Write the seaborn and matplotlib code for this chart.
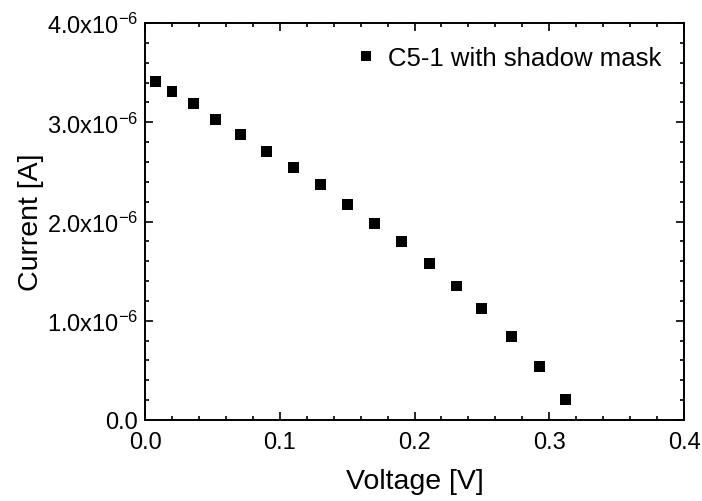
import numpy as np
import pandas as pd
import matplotlib
matplotlib.use('Agg')
import matplotlib.pyplot as plt
from matplotlib.ticker import MultipleLocator, FixedLocator
import seaborn as sns

sns.set_style('ticks')
plt.rcParams['font.family'] = ['Liberation Sans', 'DejaVu Sans']
plt.rcParams['mathtext.fontset'] = 'custom'
plt.rcParams['mathtext.rm'] = 'Liberation Sans'
plt.rcParams['mathtext.default'] = 'regular'
plt.rcParams['text.color'] = 'black'
plt.rcParams['axes.labelcolor'] = 'black'

# values
voltage = [0.008, 0.020, 0.036, 0.052, 0.071, 0.090, 0.110, 0.130, 0.150,
           0.170, 0.190, 0.211, 0.231, 0.250, 0.272, 0.293, 0.312]
current = [3.41e-6, 3.31e-6, 3.19e-6, 3.03e-6, 2.88e-6, 2.71e-6, 2.54e-6, 2.37e-6, 2.17e-6,
           1.98e-6, 1.80e-6, 1.58e-6, 1.35e-6, 1.12e-6, 0.84e-6, 0.54e-6, 0.21e-6]
series_name = 'C5-1 with shadow mask'
y_ticks = [0.0, 1.0e-6, 2.0e-6, 3.0e-6, 4.0e-6]
y_ticklabels = ['0.0', r'1.0x10$^{-6}$', r'2.0x10$^{-6}$', r'3.0x10$^{-6}$', r'4.0x10$^{-6}$']
x_ticks = [0.0, 0.1, 0.2, 0.3, 0.4]
x_ticklabels = ['0.0', '0.1', '0.2', '0.3', '0.4']

df = pd.DataFrame({'Voltage': voltage, 'Current': current, 'sample': series_name})

fig = plt.figure(figsize=(7.02, 5.02), dpi=100)
ax = fig.add_axes([0.2066, 0.1614, 0.7678, 0.7906])

sns.scatterplot(data=df, x='Voltage', y='Current', hue='sample', palette=['black'],
                marker='s', s=62, edgecolor='black', linewidth=0, ax=ax)

ax.set_xlim(0, 0.4)
ax.set_ylim(0, 4e-6)
ax.xaxis.set_major_locator(FixedLocator(x_ticks))
ax.xaxis.set_minor_locator(MultipleLocator(0.02))
ax.set_xticklabels(x_ticklabels)
ax.set_yticks(y_ticks)
ax.set_yticklabels(y_ticklabels)
ax.yaxis.set_minor_locator(MultipleLocator(0.2e-6))

ax.tick_params(which='both', direction='in', top=True, right=True, width=1.2,
               labelsize=17, colors='black')
ax.tick_params(which='major', length=6, pad=5)
ax.tick_params(which='minor', length=3)
ax.tick_params(axis='x', which='major', pad=8)
for sp in ax.spines.values():
    sp.set_linewidth(1.4)
    sp.set_color('black')

ax.set_xlabel('Voltage [V]', fontsize=20.5, labelpad=11)
ax.set_ylabel('Current [A]', fontsize=20.5, labelpad=2)

leg = ax.legend(loc='upper right', frameon=False, fontsize=18.5, handletextpad=0.25,
                handlelength=1.2, borderaxespad=0.5, markerscale=1.0)

fig.savefig('out.png', dpi=100)
